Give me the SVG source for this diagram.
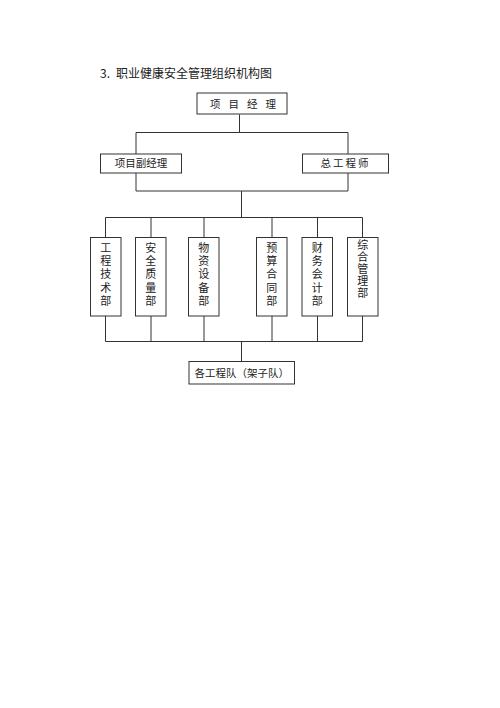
<svg xmlns="http://www.w3.org/2000/svg" width="500" height="708" viewBox="0 0 500 708">
<style>
.box{fill:#fff;stroke:#333;stroke-width:1}
.ln{stroke:#333;stroke-width:1;fill:none}
text{font-family:"Noto Sans CJK SC","Noto Sans",sans-serif;fill:#222}
.t{font-size:10.5px;text-anchor:middle}
.v{font-size:11px;writing-mode:vertical-rl;text-orientation:upright;letter-spacing:2.3px}
</style>
<rect width="500" height="708" fill="#fff"/>
<text x="100" y="78" style="font-size:12px">3.</text>
<text x="116" y="78" style="font-size:12px">职业健康安全管理组织机构图</text>
<g id="connectors">
<path class="ln" d="M239.5 114.5V132.5M136 132.5H348M136 132.5V154M348 132.5V154"/>
<path class="ln" d="M136 173V191M348 173V191M136 191H348M241.5 191V217.5"/>
<path class="ln" d="M105.5 217.5H362.5M105.5 217.5V237.5M151 217.5V237.5M204 217.5V237.5M272 217.5V237.5M317.5 217.5V237.5M362.5 217.5V237.5"/>
<path class="ln" d="M105.5 316V341.5M151 316V341.5M204 316V341.5M272 316V341.5M317.5 316V341.5M362.5 316V341.5M105.5 341.5H362.5M241.5 341.5V361.5"/>
</g>
<g id="pm"><rect class="box" x="197" y="93" width="90" height="21"/><text class="t" x="247" y="107.5" style="letter-spacing:8px">项目经理</text></g>
<g id="dpm"><rect class="box" x="100.5" y="154" width="81" height="19"/><text class="t" x="141" y="167">项目副经理</text></g>
<g id="ce"><rect class="box" x="302.5" y="154" width="86" height="19"/><text class="t" x="345.5" y="167" style="letter-spacing:2px">总工程师</text></g>
<g id="d1"><rect class="box" x="90.5" y="237.5" width="30.5" height="78.5"/><text class="v" x="105.8" y="242">工程技术部</text></g>
<g id="d2"><rect class="box" x="135.5" y="237.5" width="30.5" height="78.5"/><text class="v" x="150.8" y="242">安全质量部</text></g>
<g id="d3"><rect class="box" x="188.5" y="237.5" width="30.5" height="78.5"/><text class="v" x="203.8" y="242">物资设备部</text></g>
<g id="d4"><rect class="box" x="256.5" y="237.5" width="30.5" height="78.5"/><text class="v" x="271.8" y="242">预算合同部</text></g>
<g id="d5"><rect class="box" x="302" y="237.5" width="30.5" height="78.5"/><text class="v" x="317.3" y="242">财务会计部</text></g>
<g id="d6"><rect class="box" x="347.5" y="237.5" width="30.5" height="78.5"/><text class="v" x="362.8" y="239.5" style="letter-spacing:1px">综合管理部</text></g>
<g id="teams"><rect class="box" x="189" y="361.5" width="105.5" height="22.5"/><text class="t" x="241.7" y="376.5">各工程队（架子队）</text></g>
</svg>
